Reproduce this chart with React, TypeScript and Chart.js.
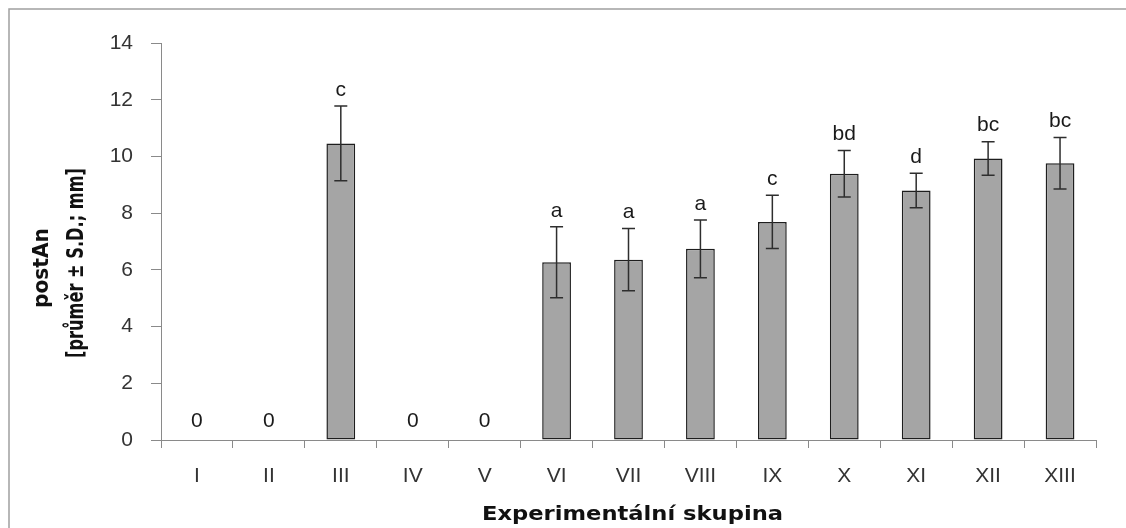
import React, { useEffect, useRef } from "react";
import { Chart, registerables } from "chart.js";

Chart.register(...registerables);

const categories = ["I", "II", "III", "IV", "V", "VI", "VII", "VIII", "IX", "X", "XI", "XII", "XIII"];
const means = [0, 0, 10.46, 0, 0, 6.27, 6.36, 6.74, 7.69, 9.39, 8.8, 9.93, 9.76];
const sds = [0, 0, 1.32, 0, 0, 1.25, 1.1, 1.02, 0.94, 0.82, 0.61, 0.59, 0.91];
const groupLabels = ["0", "0", "c", "0", "0", "a", "a", "a", "c", "bd", "d", "bc", "bc"];
const yTicks = [0, 2, 4, 6, 8, 10, 12, 14];
const xTitle = "Experimentální skupina";
const yTitleLines = ["postAn", "[průměr ± S.D.; mm]"];

const TICK_FONT = "21px 'Liberation Sans', Arial, sans-serif";
const X_TITLE_FONT = "bold 20px 'DejaVu Sans', sans-serif";
const Y_TITLE_FONT = "bold 19px 'DejaVu Sans', sans-serif";

function fitText(
  ctx: CanvasRenderingContext2D,
  text: string,
  x: number,
  y: number,
  target: number,
  rotate: boolean,
  perp: number
) {
  const w = ctx.measureText(text).width;
  const sx = target / w;
  ctx.save();
  ctx.translate(x, y);
  if (rotate) ctx.rotate(-Math.PI / 2);
  ctx.scale(sx, perp);
  ctx.fillText(text, 0, 0);
  ctx.restore();
}

const decorPlugin = {
  id: "decor",
  beforeDraw(chart: any) {
    const ctx = chart.ctx;
    ctx.save();
    ctx.fillStyle = "#ffffff";
    ctx.fillRect(0, 0, chart.width, chart.height);
    ctx.strokeStyle = "#a0a0a0";
    ctx.lineWidth = 1.5;
    ctx.strokeRect(9, 9, chart.width + 20, chart.height + 20);
    ctx.restore();
  },
  afterDraw(chart: any) {
    const ctx = chart.ctx;
    ctx.save();
    ctx.fillStyle = "#111";
    ctx.textAlign = "center";
    ctx.textBaseline = "alphabetic";
    ctx.font = X_TITLE_FONT;
    fitText(ctx, xTitle, 632.5, 520, 301, false, 1);
    ctx.font = Y_TITLE_FONT;
    fitText(ctx, yTitleLines[0], 48, 268, 80, true, 1.15);
    fitText(ctx, yTitleLines[1], 83, 263, 190, true, 1.2);
    ctx.restore();
  },
};

const errorBarPlugin = {
  id: "errorBars",
  afterDatasetsDraw(chart: any) {
    const ctx = chart.ctx;
    const yScale = chart.scales.y;
    const meta = chart.getDatasetMeta(0);
    ctx.save();
    ctx.strokeStyle = "#2e2e2e";
    ctx.lineWidth = 1.5;
    meta.data.forEach((bar: any, i: number) => {
      const sd = sds[i];
      if (!sd) return;
      const x = bar.x;
      const yt = yScale.getPixelForValue(means[i] + sd);
      const yb = yScale.getPixelForValue(means[i] - sd);
      const cap = 6.5;
      ctx.beginPath();
      ctx.moveTo(x, yt);
      ctx.lineTo(x, yb);
      ctx.moveTo(x - cap, yt);
      ctx.lineTo(x + cap, yt);
      ctx.moveTo(x - cap, yb);
      ctx.lineTo(x + cap, yb);
      ctx.stroke();
    });
    ctx.fillStyle = "#1a1a1a";
    ctx.font = TICK_FONT;
    ctx.textAlign = "center";
    ctx.textBaseline = "middle";
    meta.data.forEach((bar: any, i: number) => {
      const top = means[i] + sds[i];
      const y = means[i] === 0 ? yScale.getPixelForValue(0) - 19 : yScale.getPixelForValue(top) - 16;
      ctx.fillText(groupLabels[i], bar.x, y);
    });
    ctx.restore();
  },
};

export default function App() {
  const ref = useRef<HTMLCanvasElement>(null);
  useEffect(() => {
    const canvas = ref.current!;
    const chart = new Chart(canvas, {
      type: "bar",
      data: {
        labels: categories,
        datasets: [
          {
            data: means,
            backgroundColor: "#a5a5a5",
            borderColor: "#1e1e1e",
            borderWidth: (c: any) => (means[c.dataIndex] === 0 ? 0 : 1.5),
            borderSkipped: false,
            categoryPercentage: 1,
            barPercentage: 0.4,
          },
        ],
      },
      options: {
        responsive: false,
        animation: false,
        devicePixelRatio: 1,
        layout: { padding: { left: 0, right: 30, top: 43, bottom: 0 } },
        plugins: { legend: { display: false }, tooltip: { enabled: false }, title: { display: false } },
        scales: {
          x: {
            grid: { offset: true, drawOnChartArea: false, drawTicks: true, tickLength: 8, color: "#8a8a8a", lineWidth: 1 },
            border: { display: true, color: "#8a8a8a", width: 1 },
            ticks: { color: "#333", font: { family: "'Liberation Sans', Arial, sans-serif", size: 21 }, padding: 16, maxRotation: 0, autoSkip: false },
            afterFit: (s: any) => {
              s.height = 88;
            },
          },
          y: {
            min: 0,
            max: 14,
            afterBuildTicks: (s: any) => {
              s.ticks = yTicks.map((v) => ({ value: v }));
            },
            grid: { drawOnChartArea: false, drawTicks: true, tickLength: 10, color: "#8a8a8a", lineWidth: 1 },
            border: { display: true, color: "#8a8a8a", width: 1 },
            ticks: { color: "#333", font: { family: "'Liberation Sans', Arial, sans-serif", size: 21 }, padding: 18 },
            afterFit: (s: any) => {
              s.width = 161;
            },
          },
        },
      },
      plugins: [decorPlugin, errorBarPlugin],
    } as any);
    return () => chart.destroy();
  }, []);
  return (
    <div style={{ position: "fixed", left: 0, top: 0, width: 1126, height: 528, background: "#fff" }}>
      <canvas ref={ref} width={1126} height={528} style={{ display: "block", width: 1126, height: 528 }} />
    </div>
  );
}
